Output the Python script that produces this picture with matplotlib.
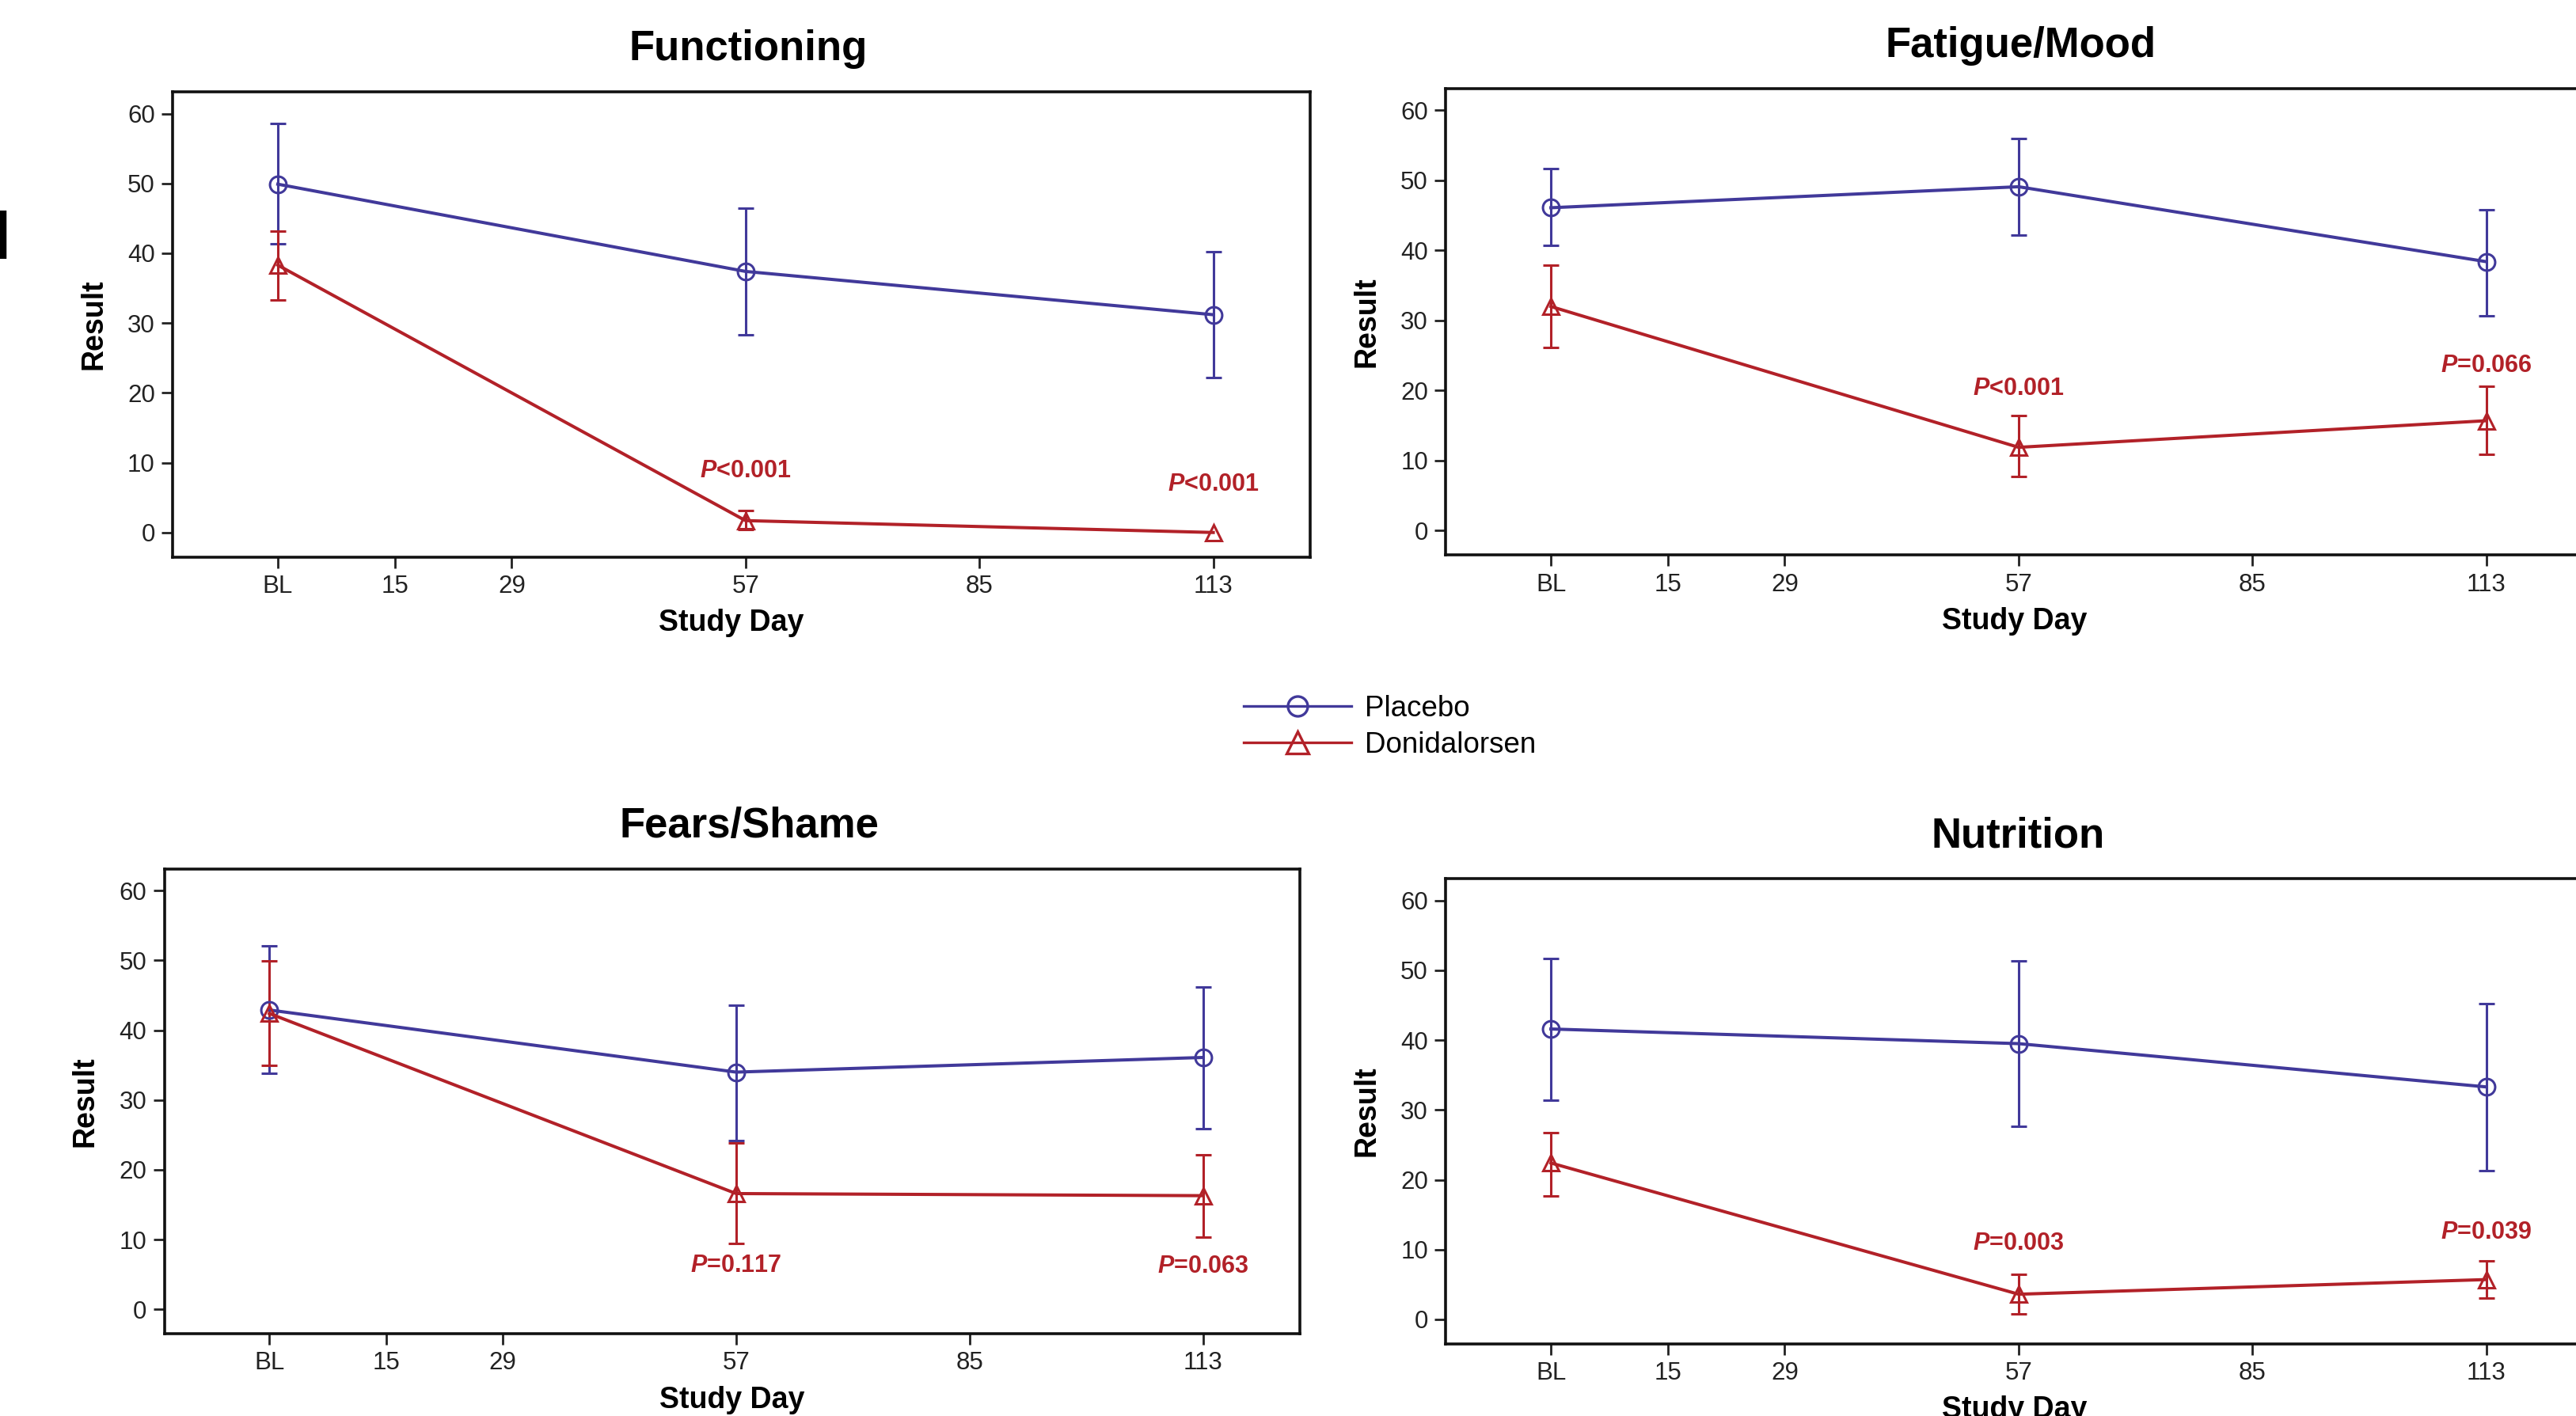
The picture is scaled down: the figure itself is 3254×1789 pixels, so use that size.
#four panel plot of placebo vs donidalorsen by study day

import numpy as np
import matplotlib
matplotlib.use("Agg")
import matplotlib.pyplot as plt
from matplotlib.lines import Line2D

plt.rcParams['font.family'] = ['Liberation Sans', 'DejaVu Sans']
plt.rcParams['mathtext.fontset'] = 'custom'
plt.rcParams['mathtext.rm'] = 'Liberation Sans'
plt.rcParams['mathtext.bf'] = 'Liberation Sans:bold'
plt.rcParams['mathtext.bfit'] = 'Liberation Sans:italic:bold'

#data
visit_days = [1, 57, 113]
tick_days = [1, 15, 29, 57, 85, 113]
tick_labels = ["BL", "15", "29", "57", "85", "113"]
panel_titles = ["Functioning", "Fatigue/Mood", "Fears/Shame", "Nutrition"]

placebo_mean = [[49.9, 37.4, 31.2], [46.1, 49.1, 38.4], [42.9, 34.0, 36.1], [41.6, 39.5, 33.3]]
placebo_low = [[41.4, 28.3, 22.2], [40.7, 42.2, 30.7], [33.8, 24.2, 25.9], [31.4, 27.7, 21.3]]
placebo_high = [[58.6, 46.5, 40.2], [51.7, 56.0, 45.8], [52.1, 43.6, 46.2], [51.7, 51.4, 45.2]]

doni_mean = [[38.3, 1.7, 0.0], [32.0, 11.9, 15.7], [42.4, 16.6, 16.3], [22.4, 3.6, 5.7]]
doni_low = [[33.3, 0.4, np.nan], [26.2, 7.7, 10.9], [35.0, 9.5, 10.4], [17.7, 0.8, 3.1]]
doni_high = [[43.2, 3.1, np.nan], [37.9, 16.4, 20.6], [49.9, 23.8, 22.1], [26.8, 6.4, 8.4]]

#p values at day 57 and 113 and where they sit
p_text = [["<0.001", "<0.001"], ["<0.001", "=0.066"], ["=0.117", "=0.063"], ["=0.003", "=0.039"]]
p_text_y = [[8.8, 6.9], [20.3, 23.6], [6.3, 6.2], [10.9, 12.5]]

placeboColor = "#41399a"
doniColor = "#b22128"

#axes boxes (left, bottom, width, height)
boxes = [[0.0670, 0.6067, 0.4416, 0.3283],
         [0.5612, 0.6079, 0.4416, 0.3295],
         [0.0638, 0.0580, 0.4407, 0.3283],
         [0.5612, 0.0510, 0.4416, 0.3283]]

#small nudges (points) for titles and x labels
title_shift = [6, 6, 16, 3]
xlabel_shift = [-9, 0, 0, 0]


def drawPanel(ax, i):

    #error bars first so the markers sit on top
    pm = np.array(placebo_mean[i])
    ax.errorbar(visit_days, pm, yerr=[pm - np.array(placebo_low[i]), np.array(placebo_high[i]) - pm],
                fmt='none', ecolor=placeboColor, elinewidth=2.2, capsize=7.5, capthick=2.2, zorder=2)
    dm = np.array(doni_mean[i])
    ax.errorbar(visit_days, dm, yerr=[dm - np.array(doni_low[i]), np.array(doni_high[i]) - dm],
                fmt='none', ecolor=doniColor, elinewidth=2.2, capsize=7.5, capthick=2.2, zorder=2)

    ax.plot(visit_days, pm, color=placeboColor, lw=2.9, marker='o', ms=15,
            mfc='none', mec=placeboColor, mew=2.2, zorder=3)
    ax.plot(visit_days, dm, color=doniColor, lw=2.9, marker='^', ms=15,
            mfc='none', mec=doniColor, mew=2.2, zorder=4)

    #p values
    for k in range(2):
        ax.text(visit_days[k + 1], p_text_y[i][k], r"$\mathbfit{P}$" + p_text[i][k],
                color=doniColor, fontsize=22, fontweight='bold', ha='center', va='center')

    ax.set_xlim(-11.6, 124.6)
    ax.set_ylim(-3.5, 63.1)
    ax.set_xticks(tick_days)
    ax.set_xticklabels(tick_labels)
    ax.set_yticks([0, 10, 20, 30, 40, 50, 60])

    ax.tick_params(axis='both', direction='out', length=10, width=2, labelsize=22.5,
                   colors='#222222', labelcolor='#222222')
    ax.tick_params(axis='x', pad=6)
    ax.tick_params(axis='y', pad=6)
    for s in ax.spines.values():
        s.set_linewidth(2.6)
        s.set_color('#111111')

    ax.annotate(panel_titles[i], xy=(0.5, 1), xycoords='axes fraction', xytext=(title_shift[i], 29),
                textcoords='offset points', ha='center', va='baseline', fontsize=38, fontweight='bold')
    ax.annotate("Study Day", xy=(0.5, 0), xycoords='axes fraction', xytext=(xlabel_shift[i], -60),
                textcoords='offset points', ha='center', va='center', fontsize=27, fontweight='bold')
    ax.annotate("Result", xy=(0, 0.5), xycoords='axes fraction', xytext=(-72, 0),
                textcoords='offset points', ha='center', va='center', rotation=90,
                fontsize=27, fontweight='bold')


fig = plt.figure(figsize=(32.54, 17.89), dpi=100)

for i in range(4):
    ax = fig.add_axes(boxes[i])
    drawPanel(ax, i)

#legend in the middle
handles = [Line2D([], [], color=placeboColor, lw=2.4, marker='o', ms=18, mfc='none', mec=placeboColor, mew=2.4),
           Line2D([], [], color=doniColor, lw=2.4, marker='^', ms=20, mfc='none', mec=doniColor, mew=2.4)]
fig.legend(handles, ["Placebo", "Donidalorsen"], loc='center left', bbox_to_anchor=(757 / 1568, 1 - 442.5 / 862),
           frameon=False, fontsize=26.5, handlelength=3.7, handletextpad=0.46, borderpad=0,
           borderaxespad=0, labelspacing=0.3)

#cut off panel letter at the left edge
fig.text(0.004, 1 - 326 / 1789, "d", ha='right', va='baseline', fontsize=60, fontweight='bold')

fig.savefig("out.png", dpi=100)
